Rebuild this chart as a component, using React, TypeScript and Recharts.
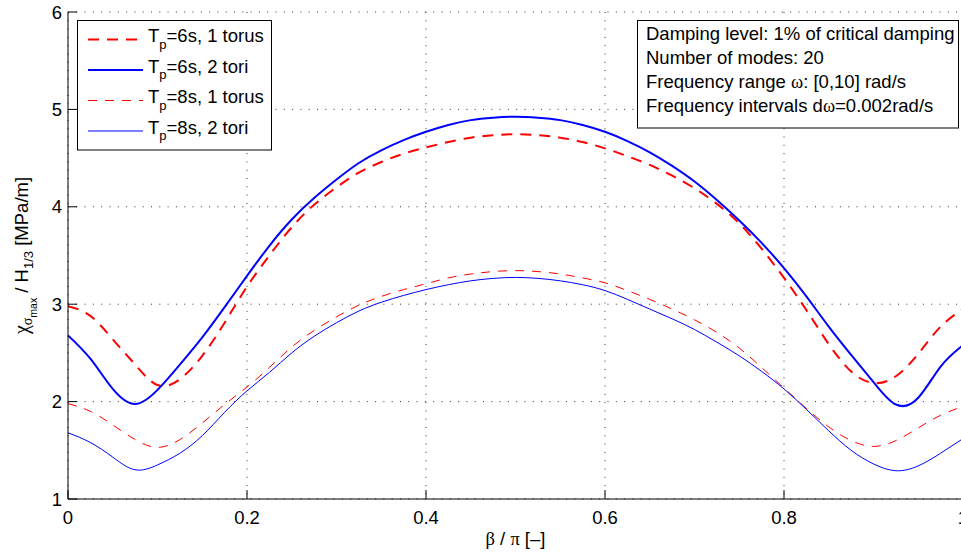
import React from 'react';
import { LineChart, Line, XAxis, YAxis, CartesianGrid } from 'recharts';

// β/π sample positions
const BETA = [
  0, 0.025, 0.05, 0.075, 0.1, 0.125, 0.15, 0.175, 0.2, 0.225, 0.25, 0.275, 0.3, 0.325, 0.35, 0.375, 0.4,
  0.425, 0.45, 0.475, 0.5, 0.525, 0.55, 0.575, 0.6, 0.625, 0.65, 0.675, 0.7, 0.725, 0.75, 0.775, 0.8,
  0.825, 0.85, 0.875, 0.9, 0.925, 0.95, 0.975, 1,
];

// Tp=6s, 1 torus
const TP6_ONE_TORUS = [
  2.98, 2.88, 2.64, 2.38, 2.17, 2.23, 2.47, 2.81, 3.18, 3.5, 3.79, 4.02, 4.2, 4.35, 4.46, 4.545, 4.61,
  4.665, 4.71, 4.735, 4.745, 4.735, 4.71, 4.665, 4.6, 4.52, 4.43, 4.32, 4.19, 4.03, 3.83, 3.57, 3.27,
  2.94, 2.59, 2.31, 2.19, 2.26, 2.49, 2.77, 2.95,
];
// Tp=6s, 2 tori
const TP6_TWO_TORI = [
  2.68, 2.44, 2.13, 1.975, 2.12, 2.38, 2.66, 2.97, 3.29, 3.6, 3.87, 4.09, 4.28, 4.45, 4.58, 4.685, 4.77,
  4.84, 4.89, 4.915, 4.925, 4.915, 4.89, 4.84, 4.77, 4.675, 4.56, 4.42, 4.26, 4.07, 3.86, 3.63, 3.37,
  3.08, 2.77, 2.48, 2.2, 1.97, 2.04, 2.36, 2.58,
];
// Tp=8s, 1 torus
const TP8_ONE_TORUS = [
  1.98, 1.9, 1.76, 1.61, 1.53, 1.61, 1.78, 1.97, 2.15, 2.35, 2.56, 2.73, 2.87, 2.99, 3.08, 3.15, 3.21,
  3.27, 3.31, 3.335, 3.345, 3.335, 3.31, 3.27, 3.22, 3.14, 3.05, 2.95, 2.84, 2.71, 2.55, 2.35, 2.14,
  1.93, 1.74, 1.6, 1.54, 1.6, 1.73, 1.86, 1.95,
];
// Tp=8s, 2 tori
const TP8_TWO_TORI = [
  1.68, 1.58, 1.43, 1.3, 1.35, 1.47, 1.65, 1.89, 2.11, 2.3, 2.5, 2.67, 2.81, 2.93, 3.02, 3.09, 3.15,
  3.2, 3.24, 3.265, 3.275, 3.265, 3.24, 3.2, 3.14, 3.05, 2.95, 2.85, 2.74, 2.61, 2.47, 2.31, 2.13,
  1.92, 1.7, 1.5, 1.36, 1.29, 1.34, 1.47, 1.62,
];

const X_TICKS = [0, 0.2, 0.4, 0.6, 0.8, 1];
const Y_TICKS = [1, 2, 3, 4, 5, 6];

const SERIES = [
  { key: 'tp6one', values: TP6_ONE_TORUS, main: 'T', sub: 'p', rest: '=6s, 1 torus', color: '#ff0000', width: 2, dash: '11 8' },
  { key: 'tp6two', values: TP6_TWO_TORI, main: 'T', sub: 'p', rest: '=6s, 2 tori', color: '#0000ff', width: 2, dash: undefined },
  { key: 'tp8one', values: TP8_ONE_TORUS, main: 'T', sub: 'p', rest: '=8s, 1 torus', color: '#ff0000', width: 1, dash: '9 8' },
  { key: 'tp8two', values: TP8_TWO_TORI, main: 'T', sub: 'p', rest: '=8s, 2 tori', color: '#0000ff', width: 1, dash: undefined },
];

const INFO_LINES = [
  'Damping level: 1% of critical damping',
  'Number of modes: 20',
  'Frequency range ω: [0,10] rad/s',
  'Frequency intervals dω=0.002rad/s',
];

const data = BETA.map((b, i) => {
  const row: any = { beta: b };
  SERIES.forEach((s) => {
    row[s.key] = s.values[i];
  });
  return row;
});

const FONT = '"Liberation Sans", Arial, Helvetica, sans-serif';
const SERIF = '"Liberation Serif", "Times New Roman", serif';
const FS = 18.5;
const TICK_LEN = 9;

const BottomTick = (props: any) => {
  const { x, y, payload } = props;
  return (
    <g>
      <line x1={x} x2={x} y1={y} y2={y - TICK_LEN} stroke="#000" strokeWidth={1} />
      <text x={x} y={y} dy={25} textAnchor="middle" fontSize={FS} fontFamily={FONT} fill="#000">
        {String(payload.value)}
      </text>
    </g>
  );
};
const TopTick = (props: any) => {
  const { x, y } = props;
  return <line x1={x} x2={x} y1={y} y2={y + TICK_LEN} stroke="#000" strokeWidth={1} />;
};
const LeftTick = (props: any) => {
  const { x, y, payload } = props;
  return (
    <g>
      <line x1={x} x2={x + TICK_LEN} y1={y} y2={y} stroke="#000" strokeWidth={1} />
      <text x={x - 6} y={y} dy={6.5} textAnchor="end" fontSize={FS} fontFamily={FONT} fill="#000">
        {String(payload.value)}
      </text>
    </g>
  );
};
const RightTick = (props: any) => {
  const { x, y } = props;
  return <line x1={x} x2={x - TICK_LEN} y1={y} y2={y} stroke="#000" strokeWidth={1} />;
};

const XLabel = (props: any) => {
  const vb = props.viewBox || { x: 68, y: 499, width: 895, height: 55 };
  return (
    <text x={vb.x + vb.width / 2} y={vb.y + 46} textAnchor="middle" fontSize={FS} fontFamily={FONT} fill="#000">
      <tspan fontFamily={SERIF}>β</tspan>
      <tspan> / </tspan>
      <tspan fontFamily={SERIF}>π</tspan>
      <tspan> [–]</tspan>
    </text>
  );
};

const YLabel = (props: any) => {
  const vb = props.viewBox || { x: 0, y: 12, width: 68, height: 487 };
  const cx = vb.x + 28;
  const cy = vb.y + vb.height / 2;
  return (
    <text transform={`translate(${cx},${cy}) rotate(-90)`} textAnchor="middle" fontSize={FS} fontFamily={FONT} fill="#000">
      <tspan fontFamily={SERIF} fontSize={20}>χ</tspan>
      <tspan fontFamily={SERIF} fontSize={14} dy={4}>σ</tspan>
      <tspan fontSize={10.5} dy={5}>max</tspan>
      <tspan fontSize={FS} dy={-9}> / H</tspan>
      <tspan fontSize={13} dy={5}>1/3</tspan>
      <tspan fontSize={FS} dy={-5}> [MPa/m]</tspan>
    </text>
  );
};

const renderInfoLine = (line: string) => {
  const parts = line.split('ω');
  const out: any[] = [];
  parts.forEach((p, i) => {
    if (i > 0) out.push(<tspan key={'w' + i} fontFamily={SERIF}>ω</tspan>);
    out.push(<tspan key={'p' + i}>{p}</tspan>);
  });
  return out;
};

const Overlay = () => (
  <svg width={961} height={554} style={{ position: 'absolute', left: 0, top: 0, pointerEvents: 'none' }}>
    {/* legend */}
    <rect x={77.5} y={20.5} width={194} height={129.5} fill="#fff" stroke="#000" strokeWidth={1} />
    {SERIES.map((s, i) => {
      const ly = 39.5 + i * 30.5;
      return (
        <g key={s.key}>
          <line x1={88} x2={143} y1={ly} y2={ly} stroke={s.color} strokeWidth={s.width} strokeDasharray={s.dash} />
          <text x={148} y={ly + 2.5} fontSize={FS} fontFamily={FONT} fill="#000">
            <tspan>{s.main}</tspan>
            <tspan fontSize={13} dy={6.5}>{s.sub}</tspan>
            <tspan fontSize={FS} dy={-6.5}>{s.rest}</tspan>
          </text>
        </g>
      );
    })}
    {/* info box */}
    <rect x={637.5} y={20.5} width={321} height={107.5} fill="#fff" stroke="#000" strokeWidth={1} />
    {INFO_LINES.map((l, i) => (
      <text key={i} x={646} y={39.5 + i * 24} fontSize={FS} fontFamily={FONT} fill="#000">
        {renderInfoLine(l)}
      </text>
    ))}
  </svg>
);

export default function App() {
  return (
    <div style={{ position: 'fixed', left: 0, top: 0, width: 961, height: 554, overflow: 'hidden', background: '#fff' }}>
      <LineChart
        width={990}
        height={554}
        data={data}
        margin={{ top: 12, right: 27, bottom: 0, left: 0 }}
        style={{ fontFamily: FONT }}
      >
        <CartesianGrid stroke="#333" strokeDasharray="1 7.3" strokeWidth={1} />
        <XAxis
          dataKey="beta"
          type="number"
          domain={[0, 1]}
          ticks={X_TICKS}
          interval={0}
          allowDataOverflow
          height={55}
          tickSize={0}
          tickMargin={0}
          tickLine={false}
          axisLine={{ stroke: '#000', strokeWidth: 1 }}
          tick={<BottomTick />}
          label={{ content: <XLabel /> }}
        />
        <XAxis
          xAxisId="top"
          orientation="top"
          dataKey="beta"
          type="number"
          domain={[0, 1]}
          ticks={X_TICKS}
          interval={0}
          allowDataOverflow
          height={0}
          tickSize={0}
          tickMargin={0}
          tickLine={false}
          axisLine={{ stroke: '#000', strokeWidth: 1 }}
          tick={<TopTick />}
        />
        <YAxis
          type="number"
          domain={[1, 6]}
          ticks={Y_TICKS}
          interval={0}
          allowDataOverflow
          width={68}
          tickSize={0}
          tickMargin={0}
          tickLine={false}
          axisLine={{ stroke: '#000', strokeWidth: 1 }}
          tick={<LeftTick />}
          label={{ content: <YLabel /> }}
        />
        <YAxis
          yAxisId="right"
          orientation="right"
          type="number"
          domain={[1, 6]}
          ticks={Y_TICKS}
          interval={0}
          allowDataOverflow
          width={0}
          tickSize={0}
          tickMargin={0}
          tickLine={false}
          axisLine={{ stroke: '#000', strokeWidth: 1 }}
          tick={<RightTick />}
        />
        {SERIES.map((s) => (
          <Line
            key={s.key}
            dataKey={s.key}
            type="natural"
            stroke={s.color}
            strokeWidth={s.width}
            strokeDasharray={s.dash}
            dot={false}
            activeDot={false}
            isAnimationActive={false}
          />
        ))}
      </LineChart>
      <Overlay />
    </div>
  );
}
